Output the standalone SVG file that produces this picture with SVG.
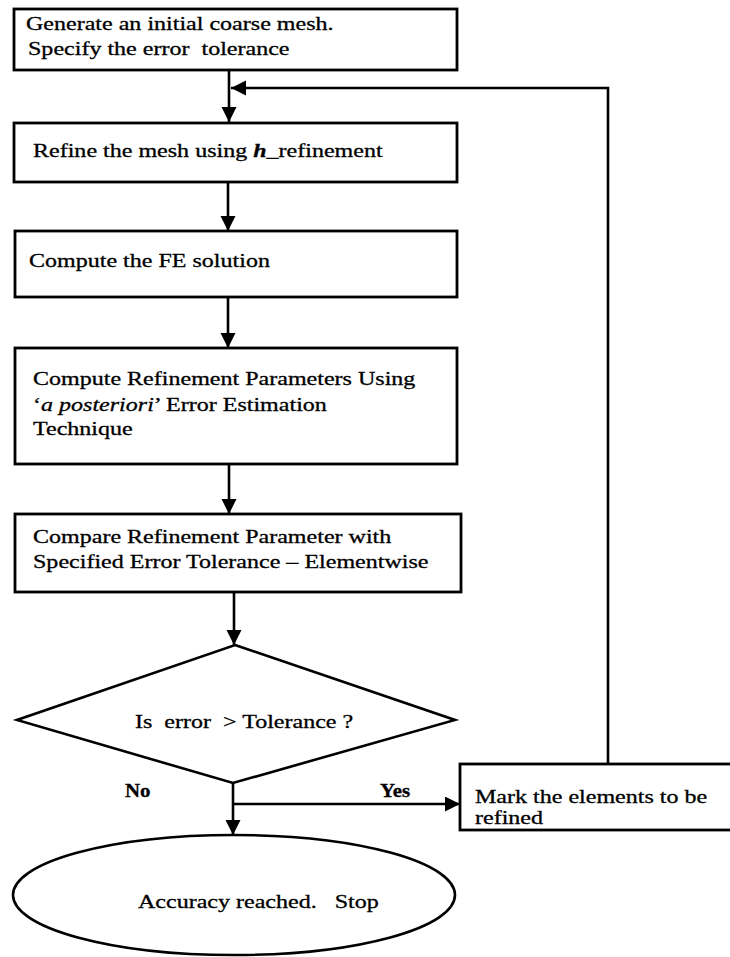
<svg xmlns="http://www.w3.org/2000/svg" width="730" height="957" viewBox="0 0 730 957">
<style>
.box{fill:#fff;stroke:#000;stroke-width:2.8}
.shape{fill:#fff;stroke:#000;stroke-width:2.6}
.con{fill:none;stroke:#000;stroke-width:2.6}
text{font-family:"Liberation Serif","Times New Roman",serif;font-size:19px;fill:#000;stroke:#000;stroke-width:0.3;white-space:pre}
.b{font-weight:bold}
</style>
<defs>
<marker id="ah" markerUnits="userSpaceOnUse" markerWidth="16" markerHeight="16" refX="15" refY="7.5" orient="auto">
<path d="M0,0 L15,7.5 L0,15 z" fill="#000"/>
</marker>
</defs>
<rect width="730" height="957" fill="#fff"/>
<g id="connectors">
<line class="con" x1="229" y1="70" x2="229" y2="122" marker-end="url(#ah)"/>
<polyline class="con" points="608,764 608,88 231,88" marker-end="url(#ah)"/>
<line class="con" x1="228" y1="182" x2="228" y2="231" marker-end="url(#ah)"/>
<line class="con" x1="228" y1="297" x2="228" y2="348" marker-end="url(#ah)"/>
<line class="con" x1="229" y1="464" x2="229" y2="514" marker-end="url(#ah)"/>
<line class="con" x1="234" y1="592" x2="234" y2="645" marker-end="url(#ah)"/>
<line class="con" x1="233" y1="783" x2="233" y2="835" marker-end="url(#ah)"/>
<line class="con" x1="233" y1="804" x2="460" y2="804" marker-end="url(#ah)"/>
</g>
<g id="n1">
<rect class="box" x="14" y="9" width="443" height="61"/>
<text transform="translate(26,30) scale(1.265,1)">Generate an initial coarse mesh.</text>
<text transform="translate(28,55) scale(1.265,1)">Specify the error  tolerance</text>
</g>
<g id="n2">
<rect class="box" x="14" y="123" width="443" height="59"/>
<text transform="translate(33,157) scale(1.265,1)">Refine the mesh using <tspan font-style="italic" font-weight="bold">h</tspan>_refinement</text>
</g>
<g id="n3">
<rect class="box" x="15" y="231" width="442" height="66"/>
<text transform="translate(29,267) scale(1.265,1)">Compute the FE solution</text>
</g>
<g id="n4">
<rect class="box" x="15" y="348" width="442" height="116"/>
<text transform="translate(33,385) scale(1.265,1)">Compute Refinement Parameters Using</text>
<text transform="translate(33,411) scale(1.265,1)">‘<tspan font-style="italic">a posteriori</tspan>’ Error Estimation</text>
<text transform="translate(33,435) scale(1.265,1)">Technique</text>
</g>
<g id="n5">
<rect class="box" x="15" y="514" width="446" height="78"/>
<text transform="translate(33,543) scale(1.265,1)">Compare Refinement Parameter with</text>
<text transform="translate(33,568) scale(1.265,1)">Specified Error Tolerance – Elementwise</text>
</g>
<g id="n6">
<polygon class="shape" points="235,645 455,720 233,783 17,720"/>
<text transform="translate(135,728) scale(1.265,1)">Is  error  &gt; Tolerance ?</text>
</g>
<g id="lbl-no"><text class="b" transform="translate(125,797) scale(1.1,1)">No</text></g>
<g id="lbl-yes"><text class="b" transform="translate(380,797) scale(1.1,1)">Yes</text></g>
<g id="n7">
<rect class="box" x="460" y="764" width="280" height="66"/>
<text transform="translate(475,803) scale(1.265,1)">Mark the elements to be</text>
<text transform="translate(475,824) scale(1.265,1)">refined</text>
</g>
<g id="n8">
<ellipse class="shape" cx="234" cy="895" rx="221" ry="60"/>
<text transform="translate(138,908) scale(1.265,1)">Accuracy reached.   Stop</text>
</g>
</svg>
